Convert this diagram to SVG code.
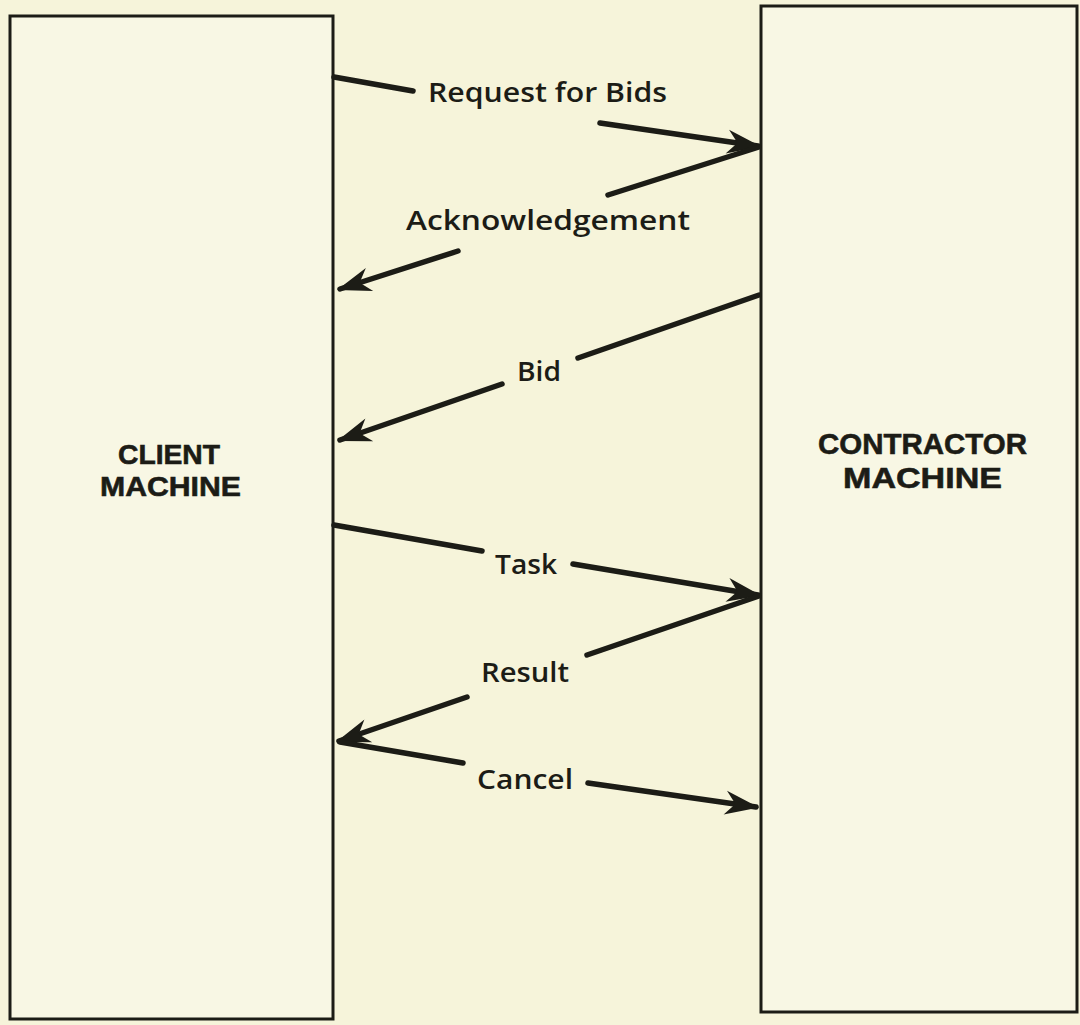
<svg xmlns="http://www.w3.org/2000/svg" width="1080" height="1025" viewBox="0 0 1080 1025">
<style>
.box{fill:#f8f7e4;stroke:#1c1c16;stroke-width:3}
.lbl{font-family:"Open Sans","Liberation Sans",sans-serif;font-weight:600;font-size:27px;fill:#1c1c16}
.title{font-family:"Liberation Sans","Open Sans",sans-serif;font-weight:700;fill:#1c1c16;stroke:#1c1c16;stroke-width:0.6}
.seg{stroke:#1c1c16;stroke-width:5.5;stroke-linecap:round;fill:none}
</style>
<defs>
<marker id="ah" markerUnits="userSpaceOnUse" markerWidth="40" markerHeight="30" viewBox="-36 -15 40 30" refX="0" refY="0" orient="auto">
<path d="M3,0 L-31,-12 L-22,-1.5 L-22,1.5 L-31,12 Z" fill="#1c1c16"/>
</marker>
</defs>
<rect width="1080" height="1025" fill="#f6f4da"/>
<g id="client">
<rect class="box" x="10" y="16" width="323" height="1003"/>
<text class="title" font-size="28"><tspan x="118" y="464" textLength="102" lengthAdjust="spacingAndGlyphs">CLIENT</tspan><tspan x="100" y="496" textLength="141" lengthAdjust="spacingAndGlyphs">MACHINE</tspan></text>
</g>
<g id="contractor">
<rect class="box" x="761" y="6" width="316" height="1006"/>
<text class="title" font-size="30"><tspan x="818" y="454" textLength="209" lengthAdjust="spacingAndGlyphs">CONTRACTOR</tspan><tspan x="843" y="488" textLength="159" lengthAdjust="spacingAndGlyphs">MACHINE</tspan></text>
</g>
<g id="connectors">
<line class="seg" x1="334" y1="77" x2="413" y2="91"/>
<text class="lbl" x="428" y="102" textLength="239" lengthAdjust="spacingAndGlyphs">Request for Bids</text>
<line class="seg" x1="600" y1="123" x2="758" y2="146" marker-end="url(#ah)"/>
<line class="seg" x1="759" y1="147" x2="608" y2="195"/>
<text class="lbl" x="406" y="230" textLength="284" lengthAdjust="spacingAndGlyphs">Acknowledgement</text>
<line class="seg" x1="458" y1="251" x2="340" y2="289" marker-end="url(#ah)"/>
<line class="seg" x1="759" y1="295" x2="578" y2="358"/>
<text class="lbl" x="517" y="381" textLength="44" lengthAdjust="spacingAndGlyphs">Bid</text>
<line class="seg" x1="502" y1="384" x2="340" y2="440" marker-end="url(#ah)"/>
<line class="seg" x1="334" y1="525" x2="482" y2="551"/>
<text class="lbl" x="495" y="574" textLength="62" lengthAdjust="spacingAndGlyphs">Task</text>
<line class="seg" x1="573" y1="564" x2="758" y2="595" marker-end="url(#ah)"/>
<line class="seg" x1="759" y1="596" x2="587" y2="655"/>
<text class="lbl" x="481" y="682" textLength="88" lengthAdjust="spacingAndGlyphs">Result</text>
<line class="seg" x1="467" y1="697" x2="339" y2="741" marker-end="url(#ah)"/>
<line class="seg" x1="340" y1="742" x2="463" y2="763"/>
<text class="lbl" x="477" y="789" textLength="96" lengthAdjust="spacingAndGlyphs">Cancel</text>
<line class="seg" x1="588" y1="783" x2="756" y2="807" marker-end="url(#ah)"/>
</g>
</svg>
